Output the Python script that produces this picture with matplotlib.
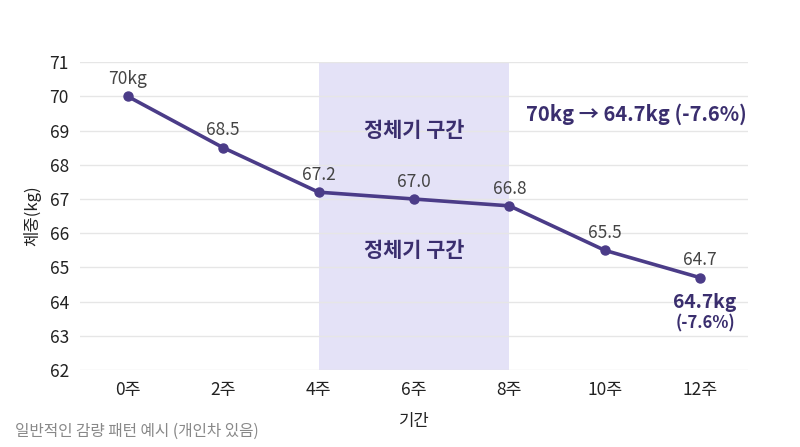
import numpy as np
import matplotlib
matplotlib.use('Agg')
import matplotlib.pyplot as plt

plt.rcParams['font.family'] = ['Noto Sans CJK KR', 'DejaVu Sans']

weeks = ['0주', '2주', '4주', '6주', '8주', '10주', '12주']
weight = [70, 68.5, 67.2, 67.0, 66.8, 65.5, 64.7]
point_labels = ['70kg', '68.5', '67.2', '67.0', '66.8', '65.5', '64.7']
plateau = (2, 4)
yticks = list(range(62, 72))

line_col = '#4b3c88'
dark_col = '#3a2e6e'

fig = plt.figure(figsize=(8, 4.47), dpi=100)
ax = fig.add_axes([0.1, 0.172, 0.835, 0.689])

x = np.arange(len(weeks))
ax.axvspan(plateau[0], plateau[1], color='#e4e2f7', zorder=0, lw=0)
ax.plot(x, weight, color=line_col, lw=2.6, marker='o', ms=6.5, zorder=3)

for xi, yi, lab in zip(x, weight, point_labels):
    ax.annotate(lab, (xi, yi), xytext=(0, 6), textcoords='offset points',
                ha='center', va='bottom', fontsize=12.5, color='#444444')

ax.text(3, 69.0, '정체기 구간', ha='center', va='center', fontsize=15,
        fontweight='bold', color=dark_col)
ax.text(3, 65.5, '정체기 구간', ha='center', va='center', fontsize=15,
        fontweight='bold', color=dark_col)
ax.text(5.33, 69.47, '70kg → 64.7kg (-7.6%)', ha='center', va='center', fontsize=14.5,
        fontweight='bold', color=dark_col)
ax.text(6.05, 63.99, '64.7kg', ha='center', va='center', fontsize=13.8,
        fontweight='bold', color=dark_col)
ax.text(6.05, 63.37, '(-7.6%)', ha='center', va='center', fontsize=12,
        fontweight='bold', color=dark_col)

ax.set_xlim(-0.5, 6.5)
ax.set_ylim(62, 71)
ax.set_xticks(x)
ax.set_xticklabels(weeks)
ax.set_yticks(yticks)
ax.tick_params(length=0, labelsize=12.5, colors='#222222', pad=8)
ax.grid(axis='y', color='#e6e6e6', lw=1)
ax.set_axisbelow(True)
for s in ax.spines.values():
    s.set_visible(False)

ax.set_xlabel('기간', fontsize=12, color='#222222', labelpad=10)
ax.set_ylabel('체중(kg)', fontsize=12, color='#222222', labelpad=6)

fig.text(0.019, 0.036, '일반적인 감량 패턴 예시 (개인차 있음)', fontsize=11.3,
         color='#888888', ha='left', va='center')

fig.savefig('out.png', dpi=100, facecolor='white')
